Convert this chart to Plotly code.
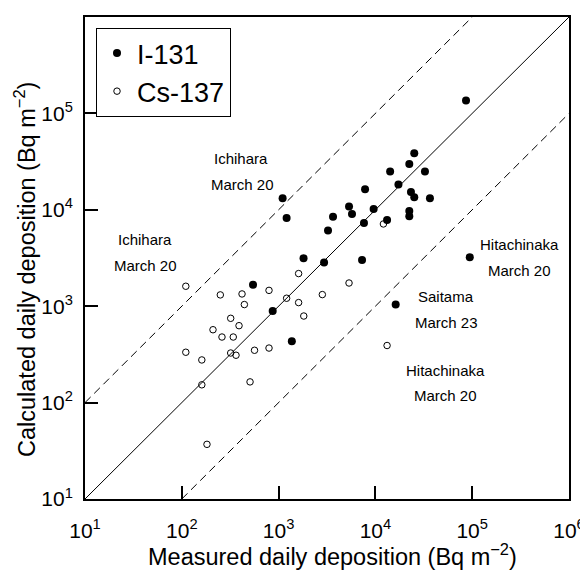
import plotly.graph_objects as go

# I-131 (filled): measured vs calculated daily deposition (Bq m-2)
i131_measured = [86300, 1100, 1210, 3240, 3650, 5340, 5730, 7820, 9590, 7620,
                 14200, 17300, 22400, 25200, 32500, 23300, 25200, 36600, 22400, 22400,
                 13200, 1810, 2950, 7280, 94400, 16200, 544, 869, 1370]
i131_calculated = [136000, 13200, 8230, 6100, 8480, 10800, 9040, 16300, 10200, 7300,
                   25000, 18300, 29900, 38600, 25000, 15300, 13500, 13200, 9730, 8570,
                   7840, 3140, 2840, 3010, 3220, 1040, 1670, 891, 432]

# Cs-137 (open)
cs137_measured = [12100, 1610, 5340, 2830, 1210, 1610, 1820, 13200, 110, 250,
                  419, 796, 443, 320, 390, 210, 260, 340, 110, 161,
                  320, 363, 564, 796, 161, 507, 182]
cs137_calculated = [7130, 2180, 1740, 1320, 1210, 1090, 791, 391, 1610, 1310,
                    1340, 1460, 1040, 749, 628, 570, 479, 479, 333, 277,
                    327, 310, 349, 368, 153, 164, 36.9]

# reference lines: 1:1 and factor-of-10 bounds
axis_min, axis_max = 10, 1e6
line_factors = [1, 10, 0.1]

tick_vals = [10, 100, 1000, 10000, 100000, 1000000]
tick_text = ["10<sup>1</sup>", "10<sup>2</sup>", "10<sup>3</sup>",
             "10<sup>4</sup>", "10<sup>5</sup>", "10<sup>6</sup>"]

labels = [
    ("Ichihara", 240.7, 158.7), ("March 20", 242, 184.3),
    ("Ichihara", 145.3, 239.3), ("March 20", 145, 265.7),
    ("Hitachinaka", 519, 244.3), ("March 20", 519, 270.3),
    ("Saitama", 445.7, 296.7), ("March 23", 446, 322.7),
    ("Hitachinaka", 445.3, 370), ("March 20", 445.3, 395),
]

FONT = "Liberation Sans, Arial, sans-serif"
SCREEN_W, SCREEN_H = 588, 570
OFF = 8  # page body margin
L, R, T, B = 85, 569, 17, 499  # plot area in screen pixels

fig = go.Figure()

for f in line_factors:
    if f >= 1:
        xs = [axis_min, axis_max / f]
    else:
        xs = [axis_min / f, axis_max]
    ys = [x * f for x in xs]
    fig.add_trace(go.Scatter(
        x=xs, y=ys, mode="lines", showlegend=False, hoverinfo="skip",
        line=dict(color="black", width=1, dash="solid" if f == 1 else "8px,5px")))

fig.add_trace(go.Scatter(
    x=i131_measured, y=i131_calculated, mode="markers", name="I-131",
    marker=dict(symbol="circle", size=8, color="black")))
fig.add_trace(go.Scatter(
    x=cs137_measured, y=cs137_calculated, mode="markers", name="Cs-137",
    marker=dict(symbol="circle-open", size=6.5, color="black", line=dict(width=1))))

def px2paper_x(px):
    return (px - L) / (R - L)

def px2paper_y(py):
    return (B - py) / (B - T)

annotations = []
for txt, px, py in labels:
    annotations.append(dict(text=txt, x=px2paper_x(px), y=px2paper_y(py),
                            xref="paper", yref="paper", showarrow=False,
                            xanchor="center", yanchor="middle",
                            font=dict(family=FONT, size=15, color="black")))

annotations.append(dict(text="Measured daily deposition (Bq m<sup>\u22122</sup>)",
                        x=px2paper_x(332), y=px2paper_y(555), xref="paper", yref="paper",
                        showarrow=False, xanchor="center", yanchor="middle",
                        font=dict(family=FONT, size=23.5, color="black")))
annotations.append(dict(text="Calculated daily deposition (Bq m<sup>\u22122</sup>)",
                        x=px2paper_x(25), y=px2paper_y(270), xref="paper", yref="paper",
                        showarrow=False, xanchor="center", yanchor="middle", textangle=-90,
                        font=dict(family=FONT, size=23.5, color="black")))

axis_common = dict(
    type="log", range=[1, 6], tickvals=tick_vals, ticktext=tick_text,
    ticks="inside", ticklen=13, tickwidth=2, tickcolor="black",
    showline=True, linewidth=2, linecolor="black", mirror=True,
    showgrid=False, zeroline=False, automargin=False,
    tickfont=dict(family=FONT, size=21, color="black"),
)

fig.update_layout(
    width=SCREEN_W - OFF, height=SCREEN_H - OFF,
    margin=dict(l=L - OFF, r=SCREEN_W - R, t=T - OFF, b=SCREEN_H - B,
                pad=0, autoexpand=False),
    paper_bgcolor="white", plot_bgcolor="white",
    xaxis=dict(**axis_common, ticklabelstandoff=12),
    yaxis=dict(**axis_common, ticklabelstandoff=6),
    annotations=annotations,
    legend=dict(x=px2paper_x(96), y=px2paper_y(28), xanchor="left", yanchor="top",
                bordercolor="black", borderwidth=1, bgcolor="white",
                font=dict(family=FONT, size=27, color="black"),
                tracegroupgap=0, itemsizing="trace"),
    font=dict(family=FONT, color="black"),
)

fig.write_html("out.html")
